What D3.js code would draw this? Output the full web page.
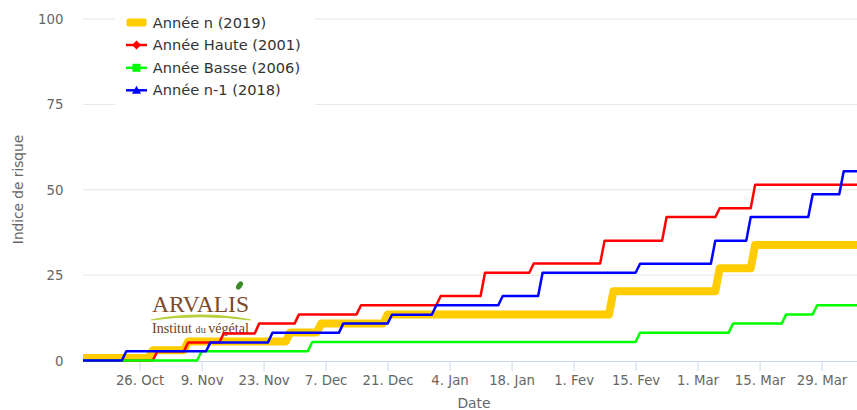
<!DOCTYPE html>
<html><head><meta charset="utf-8">
<script src="https://cdn.jsdelivr.net/npm/d3@7"></script>
<style>body{margin:0;background:#fff}svg{display:block}</style>
</head><body><svg id="c" width="857" height="410"></svg>
<script>
// ---- data ----
const domainDates = ["2018-10-13", "2019-04-06"];
const yTicks = [0, 25, 50, 75, 100];
const tickDates = ["2018-10-26","2018-11-09","2018-11-23","2018-12-07","2018-12-21","2019-01-04","2019-01-18","2019-02-01","2019-02-15","2019-03-01","2019-03-15","2019-03-29"];
const tickLabels = ["26. Oct","9. Nov","23. Nov","7. Dec","21. Dec","4. Jan","18. Jan","1. Fev","15. Fev","1. Mar","15. Mar","29. Mar"];
const seriesNames = ["Année n (2019)", "Année Haute (2001)", "Année Basse (2006)", "Année n-1 (2018)"];
const seriesColors = ["#FFCC00", "#FF0000", "#00FF00", "#0000FF"];

// step series: date on which each new level starts, and the level
const y2019Dates  = ["2018-10-13","2018-10-28","2018-11-05","2018-11-28","2018-12-05","2018-12-20","2019-02-09","2019-03-05","2019-03-13"];
const y2019Values = [0.7, 3.0, 5.6, 8.2, 10.8, 13.5, 20.3, 27.0, 33.8];

const y2001Dates  = ["2018-10-13","2018-10-29","2018-11-05","2018-11-13","2018-11-21","2018-11-30","2018-12-14","2019-01-01","2019-01-11","2019-01-22","2019-02-07","2019-02-21","2019-03-05","2019-03-13"];
const y2001Values = [0, 2.7, 5.3, 7.9, 10.8, 13.5, 16.2, 18.9, 25.7, 28.4, 35.1, 42.0, 44.6, 51.5];

const y2006Dates  = ["2018-10-13","2018-11-08","2018-12-03","2019-02-15","2019-03-08","2019-03-20","2019-03-27"];
const y2006Values = [0, 2.7, 5.4, 8.1, 10.8, 13.5, 16.2];

const y2018Dates  = ["2018-10-13","2018-10-22","2018-11-10","2018-11-24","2018-12-10","2018-12-21","2018-12-31","2019-01-15","2019-01-24","2019-02-15","2019-03-04","2019-03-12","2019-03-26","2019-04-02"];
const y2018Values = [0, 2.7, 5.3, 8.1, 10.8, 13.4, 16.2, 18.9, 25.7, 28.3, 35.1, 42.0, 48.7, 55.4];

// ---- chart ----
const parse = d3.utcParse("%Y-%m-%d");
const svg = d3.select("#c");
const L = 83, R = 857, T = 19, B = 360.5;

const x = d3.scaleUtc().domain(domainDates.map(parse)).range([82, 857]);
const y = d3.scaleLinear().domain([0, 100]).range([B, T]);

const defs = svg.append("defs");
defs.append("clipPath").attr("id", "plotclip")
  .append("rect").attr("x", L).attr("y", 0).attr("width", R - L).attr("height", 410);

// gridlines
svg.append("g").selectAll("line").data(yTicks.filter(d => d > 0)).join("line")
  .attr("x1", L).attr("x2", R).attr("y1", d => y(d)).attr("y2", d => y(d))
  .attr("stroke", "#e6e6e6").attr("stroke-width", 1);

// y labels
svg.append("g").selectAll("text").data(yTicks).join("text")
  .attr("x", 63.5).attr("y", d => y(d) + 5).attr("text-anchor", "end")
  .attr("font-family", "DejaVu Sans, sans-serif").attr("font-size", 13.3).attr("fill", "#666666")
  .text(d => d);

// y title
svg.append("text").attr("transform", "translate(22.5,189.5) rotate(-90)")
  .attr("text-anchor", "middle").attr("font-family", "DejaVu Sans, sans-serif")
  .attr("font-size", 13.7).attr("fill", "#666666").text("Indice de risque");

// x axis
const xAxis = d3.axisBottom(x).tickValues(tickDates.map(parse))
  .tickFormat((d, i) => tickLabels[i]).tickSize(10).tickSizeOuter(0);
const gx = svg.append("g").attr("transform", "translate(0,361)").call(xAxis);
gx.select(".domain").remove();
gx.append("line").attr("x1", L).attr("x2", R).attr("y1", 0.5).attr("y2", 0.5).attr("stroke", "#ccd6eb");
gx.selectAll(".tick line").attr("stroke", "#ccd6eb");
gx.selectAll(".tick text").attr("font-family", "DejaVu Sans, sans-serif").attr("font-size", 13.3)
  .attr("fill", "#666666").attr("dy", null).attr("y", 24);

svg.append("text").attr("x", 474).attr("y", 408).attr("text-anchor", "middle")
  .attr("font-family", "DejaVu Sans, sans-serif").attr("font-size", 13.9).attr("fill", "#666666").text("Date");

// logo
const logo = svg.append("g");
logo.append("text").attr("x", 152).attr("y", 311.5).attr("font-family", "Liberation Serif, serif")
  .attr("font-size", 24).attr("fill", "#7a4a2b").attr("textLength", 97).attr("lengthAdjust", "spacingAndGlyphs").text("ARVALIS");
logo.append("ellipse").attr("cx", 239.5).attr("cy", 285.5).attr("rx", 2.8).attr("ry", 4.5)
  .attr("transform", "rotate(35,239.5,285.5)").attr("fill", "#3b8a2a");
logo.append("path").attr("d", "M151,320 Q200,310 251,320 Q200,313.5 151,320 Z")
  .attr("fill", "#b5cf3a").attr("stroke", "#b5cf3a").attr("stroke-width", 1.2);
const inst = logo.append("text").attr("x", 152).attr("y", 332.5).attr("font-family", "Liberation Serif, serif")
  .attr("font-size", 14).attr("fill", "#6b4026").attr("textLength", 97).attr("lengthAdjust", "spacingAndGlyphs");
inst.append("tspan").text("Institut ");
inst.append("tspan").attr("font-size", 10).text("du ");
inst.append("tspan").text("végétal");

// series
function stepPoints(dates, values) {
  const pts = [[parse(dates[0]), values[0]]];
  for (let i = 1; i < dates.length; i++) {
    const d = parse(dates[i]);
    pts.push([d, values[i - 1]]);
    pts.push([d3.utcDay.offset(d, 1), values[i]]);
  }
  pts.push([parse(domainDates[1]), values[values.length - 1]]);
  return pts;
}
const allSeries = [
  {pts: stepPoints(y2019Dates, y2019Values), color: seriesColors[0], w: 8},
  {pts: stepPoints(y2001Dates, y2001Values), color: seriesColors[1], w: 2.5},
  {pts: stepPoints(y2006Dates, y2006Values), color: seriesColors[2], w: 2.5},
  {pts: stepPoints(y2018Dates, y2018Values), color: seriesColors[3], w: 2.5}
];
const line = d3.line().x(d => x(d[0])).y(d => y(d[1]));
const gl = svg.append("g").attr("clip-path", "url(#plotclip)");
allSeries.forEach(s => {
  gl.append("path").attr("d", line(s.pts)).attr("fill", "none").attr("stroke", s.color)
    .attr("stroke-width", s.w).attr("stroke-linejoin", "round").attr("stroke-linecap", "round");
});

// legend
const lg = svg.append("g");
lg.append("rect").attr("x", 115).attr("y", 9).attr("width", 200).attr("height", 99).attr("fill", "#ffffff");
const itemY = [22.5, 45, 67.8, 90.3];
seriesNames.forEach((name, i) => {
  const cy = itemY[i], cx = 136.5;
  if (i === 0) {
    lg.append("rect").attr("x", 126.5).attr("y", cy - 4).attr("width", 20).attr("height", 8)
      .attr("rx", 2).attr("fill", seriesColors[0]);
  } else {
    lg.append("line").attr("x1", 126).attr("x2", 147).attr("y1", cy).attr("y2", cy)
      .attr("stroke", seriesColors[i]).attr("stroke-width", 2.5);
    let p;
    if (i === 1) p = `M${cx},${cy-4.5} L${cx+4.5},${cy} L${cx},${cy+4.5} L${cx-4.5},${cy} Z`;
    else if (i === 2) p = `M${cx-4},${cy-4} h8 v8 h-8 Z`;
    else p = `M${cx},${cy-4.5} L${cx+4.5},${cy+3.5} L${cx-4.5},${cy+3.5} Z`;
    lg.append("path").attr("d", p).attr("fill", seriesColors[i]);
  }
  lg.append("text").attr("x", 152.7).attr("y", cy + 5).attr("font-family", "DejaVu Sans, sans-serif")
    .attr("font-size", 14.6).attr("fill", "#333333").text(name);
});
</script></body></html>
